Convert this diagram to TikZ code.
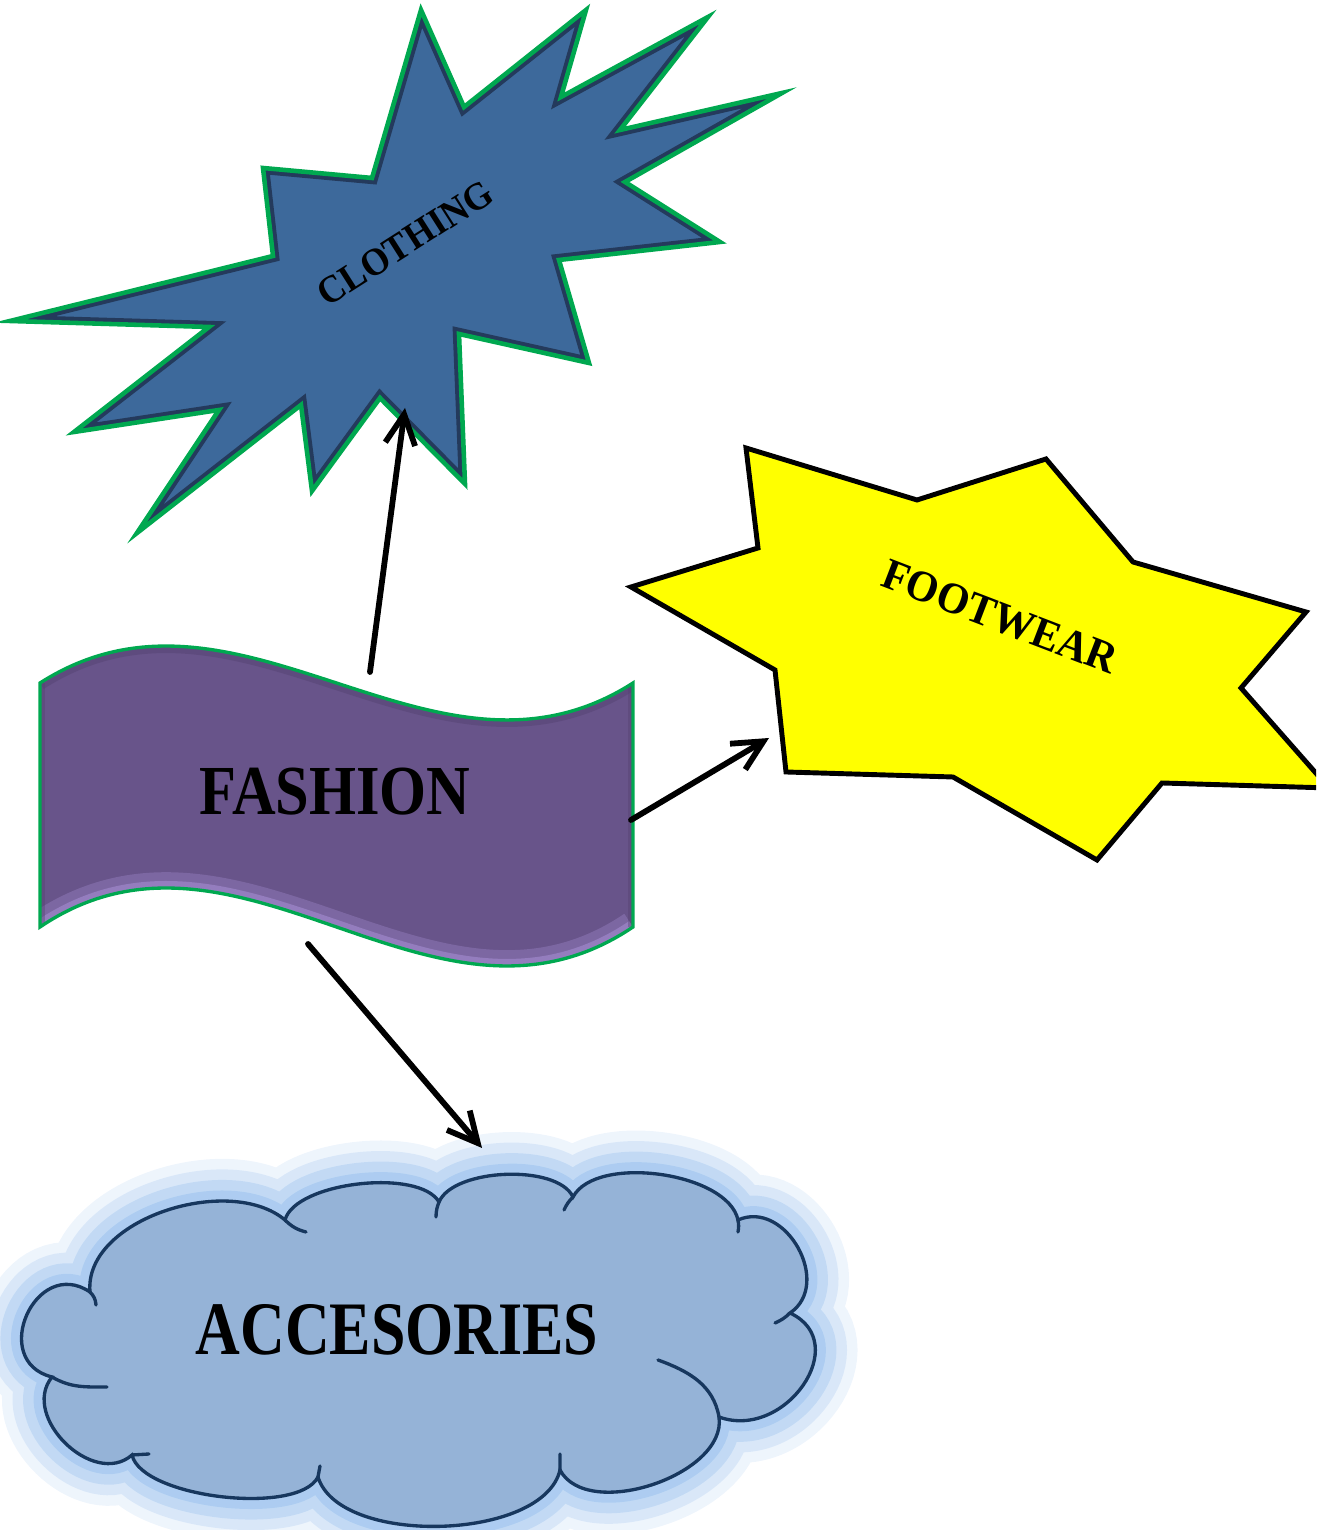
\documentclass[tikz,border=0pt]{standalone}
\usepackage{graphicx}
\usepackage{fontspec}
\newfontfamily\decofont{Liberation Serif}
\usetikzlibrary{arrows.meta}

\definecolor{starblue}{RGB}{61,105,155}
\definecolor{stardark}{RGB}{36,58,92}
\definecolor{rimgreen}{RGB}{0,168,80}
\definecolor{starfill}{RGB}{255,255,0}
\definecolor{wavepurple}{RGB}{104,84,138}
\definecolor{wavelight}{RGB}{172,148,218}
\definecolor{wavedark}{RGB}{84,66,112}
\definecolor{cloudfill}{RGB}{149,179,215}
\definecolor{cloudrim}{RGB}{23,55,94}
\definecolor{cloudglow}{RGB}{141,185,235}

\tikzset{
  lbl/.style={font=\decofont\bfseries\fontsize{#1}{#1}\selectfont, inner sep=0pt},
  link/.style={line width=3.3pt, line cap=round, -{Straight Barb[length=6mm,width=6mm]}},
}

\def\clothingstar{(421,1520) -- (464,1423) -- (586,1520) -- (561,1433) -- (708,1513)
  -- (620,1400) -- (782,1437) -- (625,1348) -- (720,1288) -- (559,1270) -- (589,1167)
  -- (459,1196) -- (465,1046) -- (380,1132) -- (312,1039) -- (301,1125) -- (137,997)
  -- (219,1120) -- (74,1098) -- (209,1203) -- (10,1209) -- (273,1274) -- (263,1362)
  -- (372,1352) -- cycle}
\def\fashionwave{(40,603) -- (40,847) .. controls (240,975) and (433,719) .. (633,847)
  -- (633,603) .. controls (433,468) and (240,738) .. (40,603) -- cycle}

\begin{document}
\begin{tikzpicture}[x=0.02cm, y=0.02cm]
  \useasboundingbox (0,0) rectangle (1316,1530);
  \clip (0,0) rectangle (1316,1530);

  % clothing
  \begin{scope}
    \clip \clothingstar;
    \fill[starblue] \clothingstar;
    \draw[stardark, line width=7pt, line join=miter] \clothingstar;
  \end{scope}
  \draw[rimgreen, line width=2.6pt, line join=miter] \clothingstar;
  \node[lbl=22, rotate=32.5] (clothing) at (405,1287) {\scalebox{0.94}[1]{CLOTHING}};
  \coordinate (clothing-s) at (405,1122);

  % footwear
  \draw[line width=2.8pt, fill=starfill, line join=miter] (746,1082) -- (917,1030)
    -- (1046,1071) -- (1133,968) -- (1306,918) -- (1241,842) -- (1329,742)
    -- (1162,747) -- (1097,670) -- (953,753) -- (786,758) -- (775,860)
    -- (631,943) -- (758,982) -- cycle;
  \node[lbl=25, rotate=-21] (footwear) at (1000,913) {\scalebox{0.95}[1]{FOOTWEAR}};
  \coordinate (footwear-w) at (769,792);

  % fashion
  \begin{scope}
    \clip \fashionwave;
    \fill[wavepurple] \fashionwave;
    \draw[wavelight, line width=18pt, opacity=.3] (40,603) .. controls (240,738) and (433,468) .. (633,603);
    \draw[wavelight, line width=8pt, opacity=.5] (40,603) .. controls (240,738) and (433,468) .. (633,603);
    \draw[wavedark, line width=8pt, opacity=.45] (40,847) .. controls (240,975) and (433,719) .. (633,847);
    \draw[wavedark, line width=6pt, opacity=.4] (40,603) -- (40,847) (633,603) -- (633,847);
  \end{scope}
  \draw[rimgreen, line width=1.9pt] \fashionwave;
  \node[lbl=40] (fashion) at (335,738) {\scalebox{0.86}[1]{FASHION}};
  \coordinate (fashion-n) at (370,858);
  \coordinate (fashion-e) at (631,710);
  \coordinate (fashion-s) at (308,586);

  % accesories
  \draw[cloudrim, line width=1.9pt, fill=cloudfill,
    preaction={draw=cloudglow, line width=48pt, opacity=.15},
    preaction={draw=cloudglow, line width=36pt, opacity=.22},
    preaction={draw=cloudglow, line width=24pt, opacity=.3},
    preaction={draw=cloudglow, line width=12pt, opacity=.4}]
    (90,238) to[out=95,in=140,looseness=.9] (285,310)
    to[out=75,in=120,looseness=.65] (439,328)
    to[out=67,in=115,looseness=.7] (573,333)
    to[out=62,in=102,looseness=.75] (738,310)
    to[out=24,in=34,looseness=1.25] (790,217)
    to[out=-25,in=-20,looseness=1.43] (719,113)
    to[out=-82,in=-62,looseness=.89] (560,60)
    to[out=-103,in=-73,looseness=.77] (318,53)
    to[out=-117,in=-77,looseness=.6] (132,75)
    to[out=221,in=231,looseness=1.17] (52,153)
    to[out=166,in=146,looseness=1.8] (90,238) -- cycle;
  \draw[cloudrim, line width=1.9pt, line cap=round]
    (90,238) to[bend left=20] (96,225)
    (285,310) to[bend right=15] (306,298)
    (439,328) to[bend right=10] (436,313)
    (573,333) to[bend right=10] (564,320)
    (738,310) to[bend left=10] (738,298)
    (790,217) to[bend left=10] (775,207)
    (719,113) to[out=100,in=-20] (658,170)
    (560,60) -- (560,76)
    (318,53) -- (320,64)
    (132,75) -- (149,76)
    (52,153) to[out=-30,in=180] (107,143);
  \node[lbl=43] (accesories) at (397,200) {\scalebox{0.82}[1]{ACCESORIES}};
  \coordinate (accesories-n) at (482,382);

  \draw[link] (fashion-n) -- (clothing-s);
  \draw[link] (fashion-e) -- (footwear-w);
  \draw[link] (fashion-s) -- (accesories-n);
\end{tikzpicture}
\end{document}
